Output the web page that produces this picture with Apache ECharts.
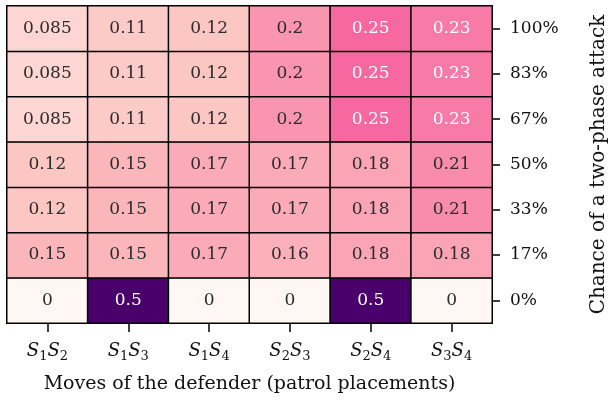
<!DOCTYPE html>
<html>
<head>
<meta charset="utf-8">
<script src="https://cdn.jsdelivr.net/npm/echarts@6/dist/echarts.min.js"></script>
<style>
  html, body { margin: 0; padding: 0; background: #fff; }
  #chart { width: 609px; height: 402px; }
</style>
</head>
<body>
<div id="chart"></div>
<script>
// defender moves (x) and chance of two-phase attack (y, bottom to top)
const moves = [['1', '2'], ['1', '3'], ['1', '4'], ['2', '3'], ['2', '4'], ['3', '4']];
const chances = ['0%', '17%', '33%', '50%', '67%', '83%', '100%'];

// one row per chance, bottom row first
const row0 = [0, 0.5, 0, 0, 0.5, 0];
const row17 = [0.15, 0.15, 0.17, 0.16, 0.18, 0.18];
const row33 = [0.12, 0.15, 0.17, 0.17, 0.18, 0.21];
const row50 = [0.12, 0.15, 0.17, 0.17, 0.18, 0.21];
const row67 = [0.085, 0.11, 0.12, 0.2, 0.25, 0.23];
const row83 = [0.085, 0.11, 0.12, 0.2, 0.25, 0.23];
const row100 = [0.085, 0.11, 0.12, 0.2, 0.25, 0.23];
const rows = [row0, row17, row33, row50, row67, row83, row100];

// matplotlib RdPu
const rdpu = ['#fff7f3', '#fde0dd', '#fcc5c0', '#fa9fb5', '#f768a1', '#dd3497', '#ae017e', '#7a0177', '#49006a'];

const FONT = 'DejaVu Serif';

let data = [];
rows.forEach((row, y) => {
  row.forEach((v, x) => {
    data.push({
      value: [x, y, v],
      label: { color: v > 0.22 ? '#fff' : '#2b2b2b' }
    });
  });
});

const chart = echarts.init(document.getElementById('chart'));
chart.setOption({
  animation: false,
  backgroundColor: '#fff',
  textStyle: { fontFamily: FONT },
  grid: { left: 7, right: 117, top: 6, bottom: 79, outerBoundsMode: 'none', containLabel: false },
  xAxis: {
    type: 'category',
    data: moves.map(m => '{s|S}{b|' + m[0] + '}{s|S}{b|' + m[1] + '}'),
    axisLine: { show: true, lineStyle: { color: '#000', width: 1.5 } },
    axisTick: { show: true, interval: 0, alignWithLabel: true, length: 9, lineStyle: { color: '#000', width: 1.5 } },
    axisLabel: {
      interval: 0,
      margin: 17,
      rich: {
        s: { fontFamily: FONT, fontStyle: 'italic', fontSize: 18, color: '#111' },
        b: { fontFamily: FONT, fontSize: 13, color: '#111', padding: [10, 0, 0, 0] }
      }
    },
    name: 'Moves of the defender (patrol placements)',
    nameLocation: 'middle',
    nameGap: 52,
    nameTextStyle: { fontFamily: FONT, fontSize: 19, color: '#111' }
  },
  yAxis: {
    type: 'category',
    position: 'right',
    data: chances,
    axisLine: { show: true, lineStyle: { color: '#000', width: 1.5 } },
    axisTick: { show: true, interval: 0, alignWithLabel: true, length: 8, lineStyle: { color: '#000', width: 1.5 } },
    axisLabel: { interval: 0, margin: 18, fontFamily: FONT, fontSize: 17, color: '#111' },
    name: 'Chance of a two-phase attack',
    nameLocation: 'middle',
    nameRotate: 90,
    nameGap: 97,
    nameTextStyle: { fontFamily: FONT, fontSize: 20, color: '#111' }
  },
  visualMap: {
    show: false,
    type: 'continuous',
    min: 0,
    max: 0.5,
    inRange: { color: rdpu }
  },
  series: [{
    type: 'heatmap',
    data: data,
    itemStyle: { borderColor: '#000', borderWidth: 1.5 },
    label: { show: true, fontFamily: FONT, fontSize: 17 },
    emphasis: { disabled: true }
  }]
});
</script>
</body>
</html>
